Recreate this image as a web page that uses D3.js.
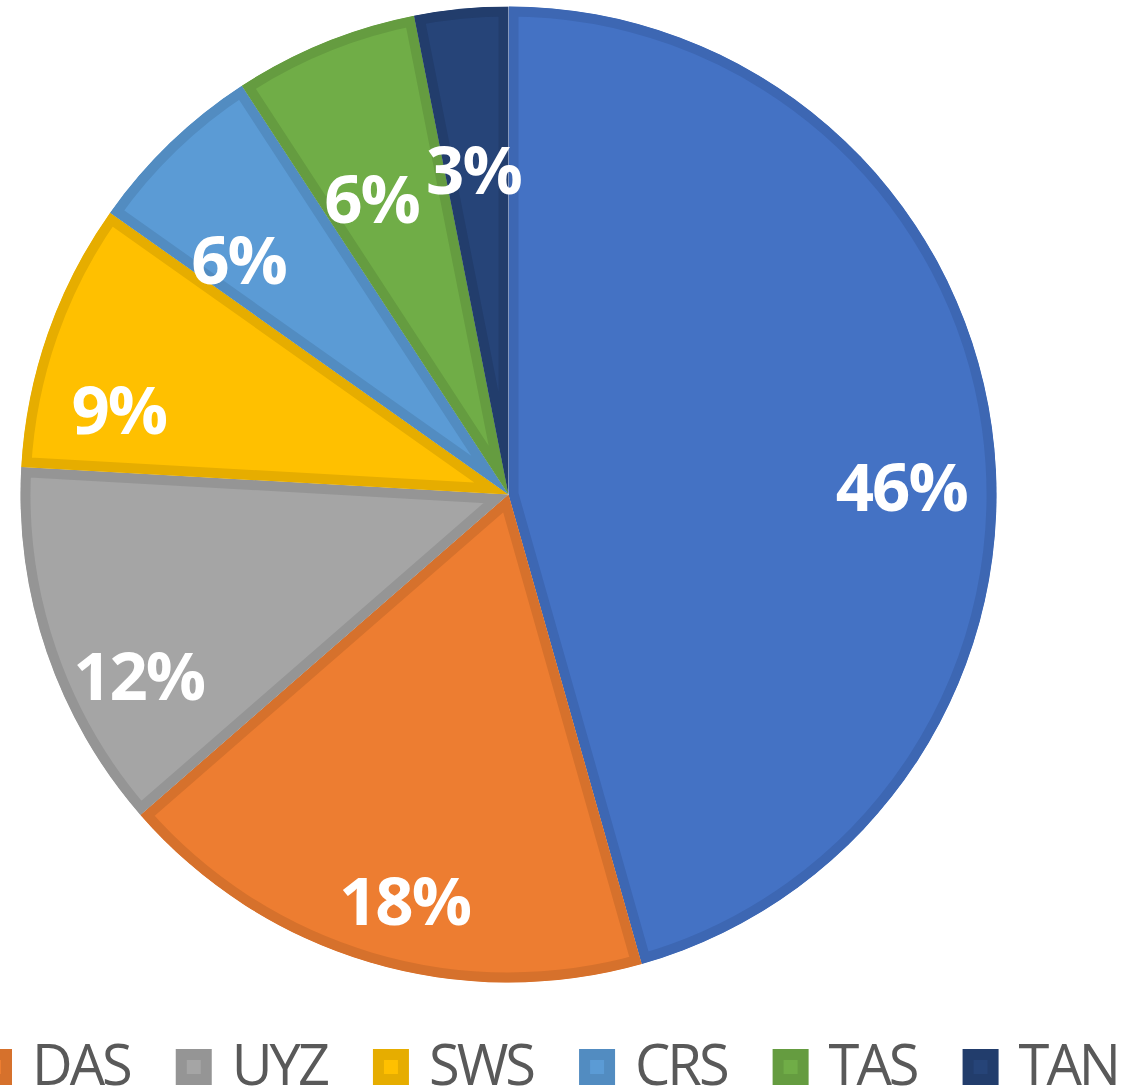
<!DOCTYPE html>
<html>
<head>
<meta charset="utf-8">
<script src="https://cdn.jsdelivr.net/npm/d3@7"></script>
<style>
  html, body { margin: 0; padding: 0; background: #fff; }
  svg { display: block; }
</style>
</head>
<body>
<svg id="chart" width="1140" height="1088"></svg>
<script>
// data, clockwise from 12 o'clock
var categories = ["ECS", "DAS", "UYZ", "SWS", "CRS", "TAS", "TAN"];
var shares = [45.6, 18.0, 12.3, 8.9, 6.0, 6.1, 3.1];

var fills   = ["#4472C4", "#ED7D31", "#A5A5A5", "#FFC000", "#5B9BD5", "#70AD47", "#264478"];
var borders = ["#3D67B3", "#D6712C", "#959595", "#E6AD00", "#528CC1", "#659C40", "#223D6C"];

// best-fit label placement: [angle offset from bisector (deg), radius fraction]
var labelPlace = [[6.9, 0.805], [-2.2, 0.859], [-7.2, 0.844], [-7.0, 0.817], [-5.1, 0.733], [-2.7, 0.668], [-0.6, 0.668]];

var cx = 508.5, cy = 494.5, R = 488;

var svg = d3.select("#chart");
var defs = svg.append("defs");

var pie = d3.pie().sort(null).value(function(d){ return d; });
var arcs = pie(shares);
var arc = d3.arc().innerRadius(0).outerRadius(R);

var g = svg.append("g").attr("transform", "translate(" + cx + "," + cy + ")");

arcs.forEach(function(a, i) {
  defs.append("clipPath").attr("id", "clip" + i)
    .append("path").attr("d", arc(a));
});

g.selectAll("path.slice")
  .data(arcs)
  .enter().append("path")
  .attr("class", "slice")
  .attr("d", arc)
  .attr("fill", function(d, i){ return fills[i]; })
  .attr("stroke", function(d, i){ return borders[i]; })
  .attr("stroke-width", 20)
  .attr("stroke-linejoin", "miter")
  .attr("clip-path", function(d, i){ return "url(#clip" + i + ")"; });

// percent labels
g.selectAll("text.pct")
  .data(arcs)
  .enter().append("text")
  .attr("class", "pct")
  .attr("x", function(d, i){
    var ang = (d.startAngle + d.endAngle) / 2 + labelPlace[i][0] * Math.PI / 180;
    return Math.sin(ang) * R * labelPlace[i][1];
  })
  .attr("y", function(d, i){
    var ang = (d.startAngle + d.endAngle) / 2 + labelPlace[i][0] * Math.PI / 180;
    return -Math.cos(ang) * R * labelPlace[i][1];
  })
  .attr("dy", "0.357em")
  .attr("text-anchor", "middle")
  .attr("font-family", "'Open Sans', sans-serif")
  .attr("font-weight", "bold")
  .attr("font-size", 67)
  .attr("letter-spacing", -2)
  .attr("fill", "#fff")
  .text(function(d){ return Math.round(d.data) + "%"; });

// legend along the bottom
var legend = svg.append("g");
var lx = 0;
var itemX = [];
categories.forEach(function(name, i) {
  var item = legend.append("g").attr("transform", "translate(" + lx + ",0)");
  item.append("rect")
    .attr("x", 0).attr("y", 1049)
    .attr("width", 36).attr("height", 36)
    .attr("fill", borders[i]);
  item.append("rect")
    .attr("x", 11).attr("y", 1060)
    .attr("width", 14).attr("height", 14)
    .attr("fill", fills[i]);
  var t = item.append("text")
    .attr("x", 56).attr("y", 1085)
    .attr("font-family", "'Open Sans', sans-serif")
    .attr("font-size", 56)
    .attr("letter-spacing", -3)
    .attr("fill", "#595959")
    .text(name);
  itemX.push(lx);
  lx += 56 + t.node().getComputedTextLength() + 46;
});
// orange entry's marker sits just past the left edge
legend.attr("transform", "translate(" + (-24 - itemX[1]) + ",0)");
</script>
</body>
</html>
